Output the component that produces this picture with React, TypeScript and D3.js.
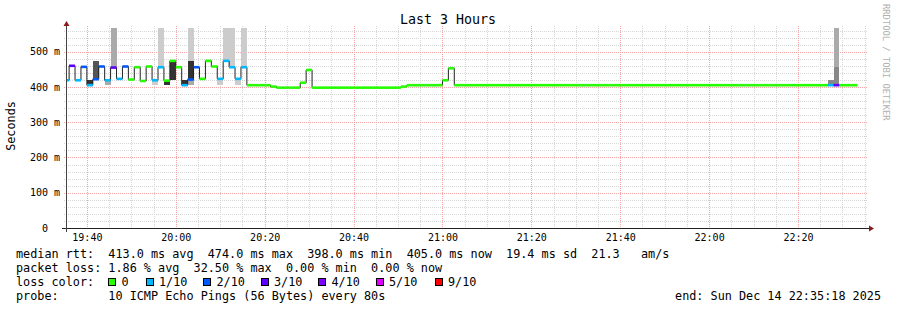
import React from 'react';
import * as d3 from 'd3';

// ---------- data ----------
const END_TIME = Date.UTC(2025, 11, 14, 22, 35, 18);
const SPAN_SECONDS = 3 * 3600;
const STEP_SECONDS = 80;
const FIRST_STEP_OFFSET = -38; // seconds relative to graph start

// median rtt per 80 s step (ms)
const medianMs = [
  419, 460, 419, 457, 405, 422, 458, 419, 455, 423,
  458, 421, 456, 417, 458, 419, 456, 418, 474, 456,
  405, 421, 456, 423, 474, 458, 423, 474, 456, 423,
  456, 405, 405, 405, 405, 401, 398, 398, 398, 398,
  412, 448, 398, 398, 398, 398, 398, 398, 398, 398,
  398, 398, 398, 398, 398, 398, 398, 401, 405, 405,
  405, 405, 405, 405, 419, 453, 405, 405, 405, 405,
  405, 405, 405, 405, 405, 405, 405, 405, 405, 405,
  405, 405, 405, 405, 405, 405, 405, 405, 405, 405,
  405, 405, 405, 405, 405, 405, 405, 405, 405, 405,
  405, 405, 405, 405, 405, 405, 405, 405, 405, 405,
  405, 405, 405, 405, 405, 405, 405, 405, 405, 405,
  405, 405, 405, 405, 405, 405, 405, 405, 405, 405,
  405, 405, 405, 405,
];

// lost pings (out of 10) per step
const lossTenths = [
  1, 3, 1, 2, 1, 2, 2, 1, 3, 1,
  2, 0, 0, 0, 0, 1, 1, 0, 0, 0,
  1, 2, 2, 0, 0, 0, 1, 1, 1, 1,
  1, 0, 0, 0, 0, 0, 0, 0, 0, 0,
  0, 0, 0, 0, 0, 0, 0, 0, 0, 0,
  0, 0, 0, 0, 0, 0, 0, 0, 0, 0,
  0, 0, 0, 0, 0, 0, 0, 0, 0, 0,
  0, 0, 0, 0, 0, 0, 0, 0, 0, 0,
  0, 0, 0, 0, 0, 0, 0, 0, 0, 0,
  0, 0, 0, 0, 0, 0, 0, 0, 0, 0,
  0, 0, 0, 0, 0, 0, 0, 0, 0, 0,
  0, 0, 0, 0, 0, 0, 0, 0, 0, 0,
  0, 0, 0, 0, 0, 0, 0, 0, 0, 1,
  3, 0, 0, 0,
];

// smoke bands: step index, low ms, high ms, ping density (1 light .. 5 dark)
const smokeStep = [4, 5, 7, 8, 15, 16, 17, 18, 20, 21, 21, 21, 26, 27, 28, 29, 30, 129, 130, 130];
const smokeLo = [405, 422, 405, 455, 405, 456, 405, 421, 405, 421, 474, 405, 405, 474, 456, 405, 456, 405, 405, 457];
const smokeHi = [421, 474, 419, 600, 419, 600, 418, 474, 421, 474, 600, 421, 423, 600, 600, 423, 600, 421, 457, 600];
const smokeDensity = [5, 4, 2, 2, 1, 1, 5, 5, 5, 5, 1, 2, 1, 1, 1, 1, 1, 3, 3, 2];

const yTickValues = [0, 0.1, 0.2, 0.3, 0.4, 0.5];
const yTickLabels = ['0  ', '100 m', '200 m', '300 m', '400 m', '500 m'];

const lossLevels = [0, 1, 2, 3, 4, 5, 9];
const lossLabels = ['0', '1/10', '2/10', '3/10', '4/10', '5/10', '9/10'];
const lossColors = ['#26ff00', '#00b8ff', '#0059ff', '#5e00ff', '#7e00ff', '#dd00ff', '#ff0000'];

const titleText = 'Last 3 Hours';
const legendRtt = 'median rtt:  413.0 ms avg  474.0 ms max  398.0 ms min  405.0 ms now  19.4 ms sd  21.3   am/s';
const legendLoss = 'packet loss: 1.86 % avg  32.50 % max  0.00 % min  0.00 % now';
const legendProbe = 'probe:       10 ICMP Echo Pings (56 Bytes) every 80s';
const legendEnd = 'end: Sun Dec 14 22:35:18 2025';

// ---------- chart ----------
const MONO = '"DejaVu Sans Mono", monospace';

function lossColor(l: number) {
  let idx = 0;
  for (let k = 0; k < lossLevels.length; k++) if (l >= lossLevels[k]) idx = k;
  return lossColors[idx];
}

const densityColor = d3.scaleOrdinal<number, string>()
  .domain([1, 2, 3, 4, 5])
  .range(['#cccccc', '#aaaaaa', '#888888', '#555555', '#333333']);

export default function App() {
  const W = 897, H = 310;
  const X0 = 66, X1 = 866, Y0 = 228, Y1 = 28;
  const start = new Date(END_TIME - SPAN_SECONDS * 1000);
  const end = new Date(END_TIME);
  const x = d3.scaleUtc().domain([start, end]).range([X0, X1]);
  const y = d3.scaleLinear().domain([0, 0.5672]).range([Y0, Y1]);
  const t0 = start.getTime() + FIRST_STEP_OFFSET * 1000;
  const stepT = (i: number) => new Date(t0 + i * STEP_SECONDS * 1000);

  const minorX = x.ticks(d3.utcMinute.every(5) as any);
  const majorX = x.ticks(d3.utcMinute.every(20) as any);
  const minorY = d3.range(0, 0.5672, 0.02).filter(v => Math.abs((v * 10) - Math.round(v * 10)) > 1e-6);
  const fmt = d3.utcFormat('%H:%M');

  const pts: [Date, number][] = medianMs.map((m, i) => [stepT(i), m / 1000]);
  pts.push([stepT(medianMs.length), medianMs[medianMs.length - 1] / 1000]);
  const line = d3.line<[Date, number]>()
    .x(d => x(d[0]))
    .y(d => y(d[1]))
    .curve(d3.curveStepAfter);

  const px = (v: number) => Math.round(v) + 0.5;

  const boxX = [108.5, 146, 203.5, 261, 318.5, 376, 435];

  const minorCol = '#d6d6d6';
  const majorCol = '#f4a4a4';

  return (
    <svg width={W} height={H} style={{ position: 'absolute', left: 0, top: 0, display: 'block', background: '#fff' }}
      fontFamily={MONO}>
      <defs>
        <clipPath id="plot">
          <rect x={X0} y={Y1} width={X1 - X0} height={Y0 - Y1} />
        </clipPath>
      </defs>
      <rect x={0} y={0} width={W} height={H} fill="#ffffff" />

      {/* grid */}
      <g shapeRendering="crispEdges">
        {minorY.map((v, i) => (
          <line key={'my' + i} x1={X0 - 2} x2={X1 + 2} y1={px(y(v))} y2={px(y(v))} stroke={minorCol} strokeDasharray="1,1" />
        ))}
        {minorX.filter(t => t.getUTCMinutes() % 20 !== 0).map((t, i) => (
          <line key={'mx' + i} x1={px(x(t))} x2={px(x(t))} y1={Y1 - 2} y2={Y0 + 2} stroke={minorCol} strokeDasharray="1,1" />
        ))}
        {yTickValues.slice(1).map((v, i) => (
          <line key={'My' + i} x1={X0 - 2} x2={X1 + 2} y1={px(y(v))} y2={px(y(v))} stroke={majorCol} strokeDasharray="1,1" />
        ))}
        {majorX.map((t, i) => (
          <line key={'Mx' + i} x1={px(x(t))} x2={px(x(t))} y1={Y1 - 2} y2={Y0 + 2} stroke={majorCol} strokeDasharray="1,1" />
        ))}
      </g>

      {/* smoke */}
      <g clipPath="url(#plot)" shapeRendering="crispEdges">
        {smokeStep.map((s, i) => {
          const xa = x(stepT(s)), xb = x(stepT(s + 1));
          const ya = y(smokeHi[i] / 1000), yb = y(smokeLo[i] / 1000);
          return <rect key={'s' + i} x={xa} y={ya} width={xb - xa} height={yb - ya} fill={densityColor(smokeDensity[i])} />;
        })}
      </g>

      {/* median line */}
      <g clipPath="url(#plot)">
        <path d={line(pts) || ''} fill="none" stroke="#202020" strokeWidth={1} />
        {medianMs.map((m, i) => {
          const xa = x(stepT(i)), xb = x(stepT(i + 1));
          const yy = y(m / 1000);
          return <rect key={'m' + i} x={xa} y={yy - 1.3} width={xb - xa} height={2.6} fill={lossColor(lossTenths[i])} />;
        })}
      </g>

      {/* axes */}
      <g shapeRendering="crispEdges">
        <line x1={X0 - 4} x2={X1 + 3} y1={Y0 + 0.5} y2={Y0 + 0.5} stroke="#222" />
        <line x1={X0 + 0.5} x2={X0 + 0.5} y1={Y0 + 4} y2={Y1 - 4} stroke="#444" />
      </g>
      <path d={`M${X0 + 0.5},${Y1 - 7} L${X0 + 3.5},${Y1 - 2} L${X0 - 2.5},${Y1 - 2} Z`} fill="#8b1a1a" />
      <path d={`M${X1 + 8},${Y0 + 0.5} L${X1 + 3},${Y0 - 2.5} L${X1 + 3},${Y0 + 3.5} Z`} fill="#8b1a1a" />

      {/* tick labels */}
      <g fontSize={10} fill="#000" style={{ whiteSpace: 'pre' }}>
        {yTickValues.map((v, i) => (
          <text key={'yl' + i} x={60} y={y(v) + 3.6} textAnchor="end" xmlSpace="preserve">{yTickLabels[i]}</text>
        ))}
        {majorX.map((t, i) => (
          <text key={'xl' + i} x={x(t) + 0.5} y={241} textAnchor="middle">{fmt(t)}</text>
        ))}
      </g>

      {/* title & labels */}
      <text x={448} y={24} textAnchor="middle" fontSize={13.3} fill="#000">{titleText}</text>
      <text transform="translate(15,126) rotate(-90)" textAnchor="middle" fontSize={11.8} fill="#000">Seconds</text>
      <text transform="translate(883,4) rotate(90)" fontSize={8.8} fill="#b0b0b0">RRDTOOL / TOBI OETIKER</text>

      {/* legend */}
      <g fontSize={11.8} fill="#000" style={{ whiteSpace: 'pre' }}>
        <text x={16} y={257.5} xmlSpace="preserve">{legendRtt}</text>
        <text x={16} y={272} xmlSpace="preserve">{legendLoss}</text>
        <text x={16} y={286} xmlSpace="preserve">loss color:</text>
        {lossLabels.map((lab, i) => (
          <g key={'lg' + i}>
            <rect x={boxX[i]} y={278.5} width={7} height={7} fill={lossColors[i]} stroke="#000" strokeWidth={1} shapeRendering="crispEdges" />
            <text x={boxX[i] + 13} y={286}>{lab}</text>
          </g>
        ))}
        <text x={16} y={300} xmlSpace="preserve">{legendProbe}</text>
        <text x={881} y={300} textAnchor="end">{legendEnd}</text>
      </g>
    </svg>
  );
}
